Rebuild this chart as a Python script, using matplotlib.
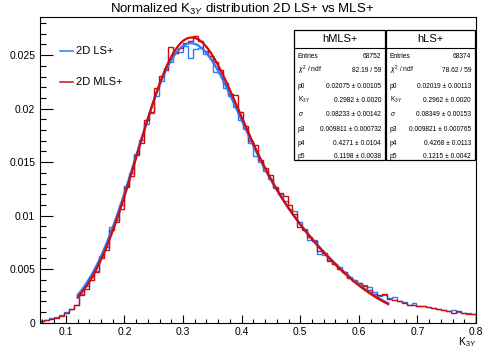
import numpy as np
import matplotlib
matplotlib.use('Agg')
import matplotlib.pyplot as plt

plt.rcParams['font.family'] = ['Liberation Sans', 'DejaVu Sans']
plt.rcParams['mathtext.fontset'] = 'custom'
plt.rcParams['mathtext.rm'] = 'Liberation Sans'
plt.rcParams['mathtext.it'] = 'Liberation Sans:italic'

# histogram range (88 bins)
x_lo, x_hi = 0.055, 0.80
n_bins = 88

# 2D MLS+ (red) bin contents
mls = [0.00015, 0.00025, 0.00038, 0.00048, 0.00062, 0.00095, 0.00130, 0.00162,
       0.00255, 0.00315, 0.00395, 0.0047, 0.0060, 0.0068, 0.0087, 0.0094,
       0.0106, 0.0127, 0.0137, 0.0157, 0.0168, 0.0189, 0.0197, 0.0219,
       0.0231, 0.0236, 0.0258, 0.0252, 0.0257, 0.0261, 0.0263, 0.0268,
       0.0263, 0.0254, 0.0249, 0.0244, 0.0236, 0.0224, 0.0214, 0.0213,
       0.0197, 0.0184, 0.0170, 0.0166, 0.0152, 0.0145, 0.0138, 0.0127,
       0.0121, 0.0118, 0.0110, 0.0102, 0.0089, 0.0087, 0.0080, 0.0076,
       0.0067, 0.0065, 0.0058, 0.0055, 0.0050, 0.0047, 0.0042, 0.0039,
       0.0037, 0.0034, 0.0031, 0.0027, 0.0026, 0.00265, 0.0022, 0.0021,
       0.0020, 0.00187, 0.0017, 0.0017, 0.0016, 0.0016, 0.00146, 0.0014,
       0.0013, 0.00115, 0.0011, 0.00093, 0.0011, 0.00087, 0.00084, 0.00082]

# 2D LS+ (blue) bin contents
ls = [0.00018, 0.00028, 0.00040, 0.00050, 0.00075, 0.00100, 0.00125, 0.00170,
      0.0027, 0.0034, 0.0043, 0.0048, 0.0062, 0.0071, 0.0089, 0.0096,
      0.0110, 0.0128, 0.0140, 0.0158, 0.0171, 0.0186, 0.0196, 0.0212,
      0.0226, 0.0238, 0.0244, 0.0252, 0.0253, 0.0259, 0.0247, 0.0256,
      0.0257, 0.0251, 0.0249, 0.0234, 0.0233, 0.0219, 0.0212, 0.0202,
      0.0189, 0.0181, 0.0168, 0.0156, 0.0150, 0.0142, 0.0134, 0.0126,
      0.0120, 0.0114, 0.0106, 0.0104, 0.0094, 0.0088, 0.0077, 0.0077,
      0.0064, 0.0063, 0.0059, 0.0055, 0.0052, 0.0047, 0.0043, 0.0040,
      0.0037, 0.0035, 0.0033, 0.0029, 0.0025, 0.0026, 0.0023, 0.0024,
      0.0020, 0.0019, 0.0017, 0.0018, 0.0016, 0.0016, 0.0015, 0.0014,
      0.0013, 0.0012, 0.0011, 0.00115, 0.0010, 0.0009, 0.00086, 0.00084]

# fit parameters from the stat boxes: p0, K3Y, sigma, p3, p4, p5
par_mls = [0.02075, 0.2982, 0.08233, 0.009811, 0.4271, 0.1198]
par_ls = [0.02019, 0.2962, 0.08349, 0.009821, 0.4268, 0.1215]
fit_lo, fit_hi = 0.12, 0.65

stat_labels = ['Entries', '$\\chi^2$ / ndf', 'p0', 'K$_{3Y}$', '$\\sigma$', 'p3', 'p4', 'p5']
stat_mls = ['68752', '82.19 / 59', '0.02075 ± 0.00105', '0.2982 ± 0.0020',
            '0.08233 ± 0.00142', '0.009811 ± 0.000732', '0.4271 ± 0.0104', '0.1198 ± 0.0038']
stat_ls = ['68374', '78.62 / 59', '0.02019 ± 0.00113', '0.2962 ± 0.0020',
           '0.08349 ± 0.00153', '0.009821 ± 0.000765', '0.4268 ± 0.0113', '0.1215 ± 0.0042']

blue = '#2a7bff'
red = '#d10a0a'


def fitfunc(x, p):
    return (p[0] * np.exp(-0.5 * ((x - p[1]) / p[2]) ** 2)
            + p[3] * np.exp(-0.5 * ((x - p[4]) / p[5]) ** 2))


W, H = 484, 349
fig = plt.figure(figsize=(W / 100, H / 100), dpi=100)
ax = fig.add_axes([39.5 / W, 1 - 322.7 / H, (476 - 39.5) / W, (322.7 - 17) / H])
tr = fig.transFigure

edges = np.linspace(x_lo, x_hi, n_bins + 1)
ax.stairs(ls, edges, color=blue, lw=1.0, baseline=0)
ax.stairs(mls, edges, color=red, lw=1.0, baseline=0)

xf = np.linspace(fit_lo, fit_hi, 400)
ax.plot(xf, fitfunc(xf, par_ls), color=blue, lw=1.6)
ax.plot(xf, fitfunc(xf, par_mls), color=red, lw=1.6)

ax.set_xlim(x_lo, x_hi)
ax.set_ylim(0, 0.02857)

ax.set_xticks(np.arange(0.1, 0.81, 0.1))
ax.set_xticklabels(['0.1', '0.2', '0.3', '0.4', '0.5', '0.6', '0.7', '0.8'])
ax.set_xticks(np.arange(0.06, 0.801, 0.02), minor=True)
ax.set_yticks([0, 0.005, 0.01, 0.015, 0.02, 0.025])
ax.set_yticklabels(['0', '0.005', '0.01', '0.015', '0.02', '0.025'])
ax.set_yticks(np.arange(0, 0.0285, 0.001), minor=True)
ax.tick_params(axis='both', which='both', direction='in', labelsize=7.5, width=0.8)
ax.tick_params(axis='y', which='major', length=9.5, pad=3)
ax.tick_params(axis='y', which='minor', length=4.5)
ax.tick_params(axis='x', which='major', length=6, pad=3)
ax.tick_params(axis='x', which='minor', length=3)
for s in ax.spines.values():
    s.set_linewidth(0.8)

fig.text(242 / W, 1 - 9 / H, 'Normalized K$_{3Y}$ distribution 2D LS+ vs MLS+',
         ha='center', va='center', fontsize=9.5)
fig.text(476 / W, 1 - 345 / H, 'K$_{3Y}$', ha='right', va='baseline', fontsize=7.5)

# legend, drawn by hand to sit where the ROOT one does
for y, c, lab in [(51, blue, '2D LS+'), (82, red, '2D MLS+')]:
    fig.add_artist(plt.Line2D([60 / W, 73 / W], [1 - y / H] * 2, transform=tr,
                              color=c, lw=1.1))
    fig.text(76 / W, 1 - y / H, lab, ha='left', va='center', fontsize=8)


def stat_box(x0, x1, title, values):
    top, title_bot, bot = 30, 47.5, 160
    box = plt.Rectangle((x0 / W, 1 - bot / H), (x1 - x0) / W, (bot - top) / H,
                        transform=tr, facecolor='white', edgecolor='black', lw=0.9)
    fig.patches.append(box)
    fig.add_artist(plt.Line2D([x0 / W, x1 / W], [1 - title_bot / H] * 2,
                              transform=tr, color='black', lw=0.8))
    fig.text((x0 + x1) / 2 / W, 1 - 39 / H, title, ha='center', va='center', fontsize=8)
    rows = [56.7, 70.7, 86, 100, 114.3, 129.3, 143.3, 157]
    for y, lab, val in zip(rows, stat_labels, values):
        fig.text((x0 + 4) / W, 1 - y / H, lab, ha='left', va='center', fontsize=4.8)
        fig.text((x1 - 4) / W, 1 - y / H, val, ha='right', va='center', fontsize=4.8)


stat_box(294, 385, 'hMLS+', stat_mls)
stat_box(386, 475, 'hLS+', stat_ls)

fig.savefig('out.png', dpi=100)
